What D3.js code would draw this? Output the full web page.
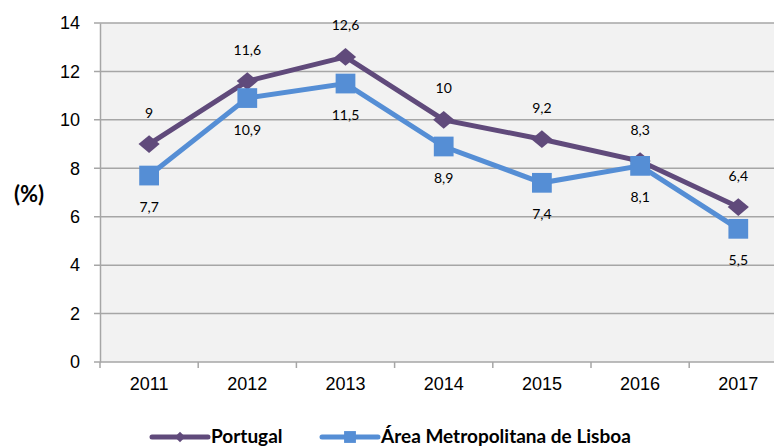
<!DOCTYPE html>
<html>
<head>
<meta charset="utf-8">
<script src="https://cdn.jsdelivr.net/npm/d3@7"></script>
<style>
  body { margin: 0; background: #fff; }
  svg { display: block; font-family: Lato, "Open Sans", sans-serif; }
</style>
</head>
<body>
<div id="graf"></div>
<script>
// datos
var anos = ['2011', '2012', '2013', '2014', '2015', '2016', '2017']
var portugal = [9, 11.6, 12.6, 10, 9.2, 8.3, 6.4]
var lisboa = [7.7, 10.9, 11.5, 8.9, 7.4, 8.1, 5.5]
var yTicks = [0, 2, 4, 6, 8, 10, 12, 14]

var ancho_total = 774, alto_total = 448
var margins = { top: 23, left: 100, bottom: 86 }
var ancho = 7 * 98.2
var alto = alto_total - margins.top - margins.bottom

var svg = d3.select('#graf').append('svg')
  .attr('width', ancho_total)
  .attr('height', alto_total)

var g = svg.append('g')
  .attr('transform', `translate(${margins.left}, ${margins.top})`)

var x = d3.scaleBand().domain(anos).range([0, ancho])
var y = d3.scaleLinear().domain([0, 14]).range([alto, 0])

g.append('rect')
  .attr('width', ancho).attr('height', alto)
  .attr('fill', '#f2f2f2')

// rejilla
g.selectAll('.grid').data(yTicks).enter().append('line')
  .attr('x1', -6).attr('x2', ancho)
  .attr('y1', d => y(d)).attr('y2', d => y(d))
  .attr('stroke', '#a6a6a6').attr('stroke-width', 1.5)

// eje y
var yAxis = g.append('g')
  .call(d3.axisLeft(y).tickValues(yTicks).tickSize(0).tickPadding(20))
yAxis.select('.domain').attr('stroke', '#a6a6a6').attr('stroke-width', 1.5)
yAxis.selectAll('text').style('font-size', '18px').attr('fill', '#000')

// eje x
var xAxis = g.append('g')
  .attr('transform', `translate(0, ${alto})`)
  .call(d3.axisBottom(x).tickSize(0).tickPadding(15))
xAxis.select('.domain').remove()
xAxis.selectAll('text').style('font-size', '18px').attr('fill', '#000')
g.selectAll('.xtick').data(d3.range(anos.length + 1)).enter().append('line')
  .attr('x1', i => i * x.step()).attr('x2', i => i * x.step())
  .attr('y1', alto).attr('y2', alto + 6)
  .attr('stroke', '#a6a6a6').attr('stroke-width', 1.5)

svg.append('text')
  .attr('x', 29).attr('y', 202)
  .attr('text-anchor', 'middle')
  .style('font-size', '22px').style('font-weight', 'bold')
  .text('(%)')

var cx = (d, i) => x(anos[i]) + x.bandwidth() / 2
var line = d3.line().x(cx).y(d => y(d))

var fmt = v => String(v).replace('.', ',')

var series = [
  { name: 'Portugal', values: portugal, color: '#604a7b', symbol: d3.symbolDiamond2, size: 260, sc: 'scale(1.05,0.88)', lsize: 70, dy: -30 },
  { name: 'Área Metropolitana de Lisboa', values: lisboa, color: '#558ed5', symbol: d3.symbolSquare, size: 390, sc: '', lsize: 140, dy: 33 }
]

// pintamos primero las líneas, luego marcadores
series.forEach(s => {
  g.append('path')
    .datum(s.values)
    .attr('d', line)
    .attr('fill', 'none')
    .attr('stroke', s.color)
    .attr('stroke-width', 5)
})

series.forEach(s => {
  g.selectAll(null).data(s.values).enter().append('path')
    .attr('d', d3.symbol().type(s.symbol).size(s.size))
    .attr('transform', (d, i) => `translate(${cx(d, i)}, ${y(d)}) ${s.sc}`)
    .attr('fill', s.color)

  g.selectAll(null).data(s.values).enter().append('text')
    .attr('x', cx)
    .attr('y', d => y(d) + s.dy)
    .attr('text-anchor', 'middle')
    .attr('dominant-baseline', 'middle')
    .style('font-size', '14px')
    .text(fmt)
})

// leyenda
var leyenda = [
  { x: 152, s: series[0] },
  { x: 322, s: series[1] }
]
leyenda.forEach(l => {
  var lg = svg.append('g').attr('transform', `translate(${l.x}, 437)`)
  lg.append('line').attr('x1', 0).attr('x2', 56)
    .attr('stroke', l.s.color).attr('stroke-width', 5).attr('stroke-linecap', 'round')
  lg.append('path')
    .attr('d', d3.symbol().type(l.s.symbol).size(l.s.lsize))
    .attr('transform', 'translate(28,0)')
    .attr('fill', l.s.color)
  lg.append('text').attr('x', 59).attr('y', 1)
    .attr('dominant-baseline', 'middle')
    .style('font-size', '19px').style('font-weight', 'bold')
    .text(l.s.name)
})
</script>
</body>
</html>
